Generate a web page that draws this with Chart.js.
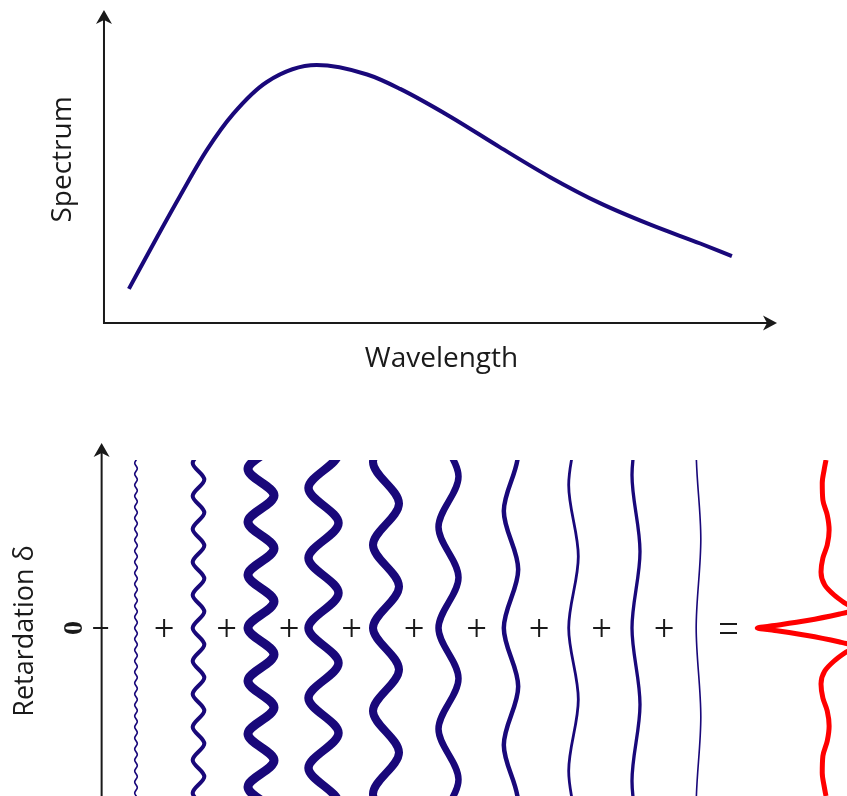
<!DOCTYPE html>
<html>
<head>
<meta charset="utf-8">
<title>Spectrum and interferogram</title>
<script src="https://cdn.jsdelivr.net/npm/chart.js@4.4.1/dist/chart.umd.min.js"></script>
<style>
  html, body { margin: 0; padding: 0; background: #fff; }
  canvas { display: block; }
</style>
</head>
<body>
<canvas id="spectrumChart" width="847" height="400"></canvas>
<canvas id="interferogramChart" width="847" height="396"></canvas>
<script>
// top panel: the spectrum (arbitrary units, axis runs 0..10)
const wavelength = [0.37, 0.79, 1.13, 1.53, 1.92, 2.42, 3.16, 3.91, 4.40, 5.14, 5.88, 6.63, 7.37, 8.11, 8.86, 9.33];
const spectrum   = [1.09, 2.75, 4.06, 5.53, 6.68, 7.70, 8.24, 7.94, 7.48, 6.60, 5.62, 4.66, 3.83, 3.15, 2.54, 2.14];

// bottom panel: one cosine per wavelength sample, left to right
// period in retardation units, amplitude in slot widths, strength = relative intensity
const componentPeriod    = [1.1, 3.3, 5.3, 7.0, 8.3, 10.1, 11.7, 14.3, 15.3, 17.8];
const componentAmplitude = [0.021, 0.093, 0.208, 0.24, 0.208, 0.16, 0.115, 0.077, 0.064, 0.037];
const componentStrength  = [0.18, 0.45, 1.0, 0.94, 0.89, 0.72, 0.5, 0.31, 0.37, 0.18];

// their sum, the interferogram (left of the baseline is positive)
const retardation   = [-16.8, -15.8, -14.5, -12.8, -11.3, -9.8, -8.3, -7.0, -5.6, -4.3, -3.3, -2.5, -2.0, -1.6, -1.4, -0.75, -0.25,
                       0, 0.25, 0.75, 1.4, 1.6, 2.0, 2.5, 3.3, 4.3, 5.6, 7.0, 8.3, 9.8, 11.3, 12.8, 14.5, 15.8, 16.8];
const interferogram = [-0.04, -0.01, 0.02, 0.01, -0.06, -0.09, -0.06, 0.01, 0.04, -0.02, -0.17, -0.34, -0.46, -0.39, -0.26, 0.26, 0.78,
                       1.06, 0.78, 0.26, -0.26, -0.39, -0.46, -0.34, -0.17, -0.02, 0.04, 0.01, -0.06, -0.09, -0.06, 0.01, 0.02, -0.01, -0.04];

const BLUE = '#19087a';
const INK = '#1a1a1a';
const AXIS_END = 10;
const DELTA_MAX = 16.8;
const SUM_SLOT = 12;

function arrowHead(ctx, x, y, dir) {
  // dir 'up' or 'right', notched head like the original drawing
  ctx.beginPath();
  if (dir === 'up') {
    ctx.moveTo(x, y);
    ctx.lineTo(x - 8, y + 14);
    ctx.lineTo(x, y + 10);
    ctx.lineTo(x + 8, y + 14);
  } else {
    ctx.moveTo(x, y);
    ctx.lineTo(x - 14, y - 7.5);
    ctx.lineTo(x - 10, y);
    ctx.lineTo(x - 14, y + 7.5);
  }
  ctx.closePath();
  ctx.fill();
}

function rotatedText(ctx, text, x, y, font) {
  ctx.save();
  ctx.translate(x, y);
  ctx.rotate(-Math.PI / 2);
  ctx.font = font;
  ctx.textAlign = 'center';
  ctx.textBaseline = 'alphabetic';
  ctx.fillText(text, 0, 0);
  ctx.restore();
}

const spectrumAxes = {
  id: 'spectrumAxes',
  afterDraw(chart) {
    const ctx = chart.ctx;
    const xs = chart.scales.x, ys = chart.scales.y;
    const x0 = xs.getPixelForValue(0), y0 = ys.getPixelForValue(0);
    const xEnd = xs.getPixelForValue(AXIS_END), yEnd = ys.getPixelForValue(AXIS_END);
    ctx.save();
    ctx.strokeStyle = INK;
    ctx.fillStyle = INK;
    ctx.lineWidth = 2;
    ctx.beginPath();
    ctx.moveTo(x0, yEnd + 10);
    ctx.lineTo(x0, y0);
    ctx.lineTo(xEnd - 10, y0);
    ctx.stroke();
    arrowHead(ctx, x0, yEnd, 'up');
    arrowHead(ctx, xEnd, y0, 'right');
    rotatedText(ctx, 'Spectrum', x0 - 32.5, 159.5, '28px "Open Sans"');
    ctx.font = '28px "Open Sans"';
    ctx.textAlign = 'center';
    ctx.textBaseline = 'alphabetic';
    ctx.fillText('Wavelength', (x0 + xEnd) / 2 + 1, y0 + 44);
    ctx.restore();
  }
};

new Chart(document.getElementById('spectrumChart'), {
  type: 'line',
  data: {
    datasets: [{
      data: wavelength.map((w, i) => ({ x: w, y: spectrum[i] })),
      borderColor: BLUE,
      borderWidth: 4,
      pointRadius: 0,
      cubicInterpolationMode: 'monotone'
    }]
  },
  options: {
    responsive: false,
    animation: false,
    events: [],
    layout: { padding: 0 },
    plugins: { legend: { display: false }, tooltip: { enabled: false } },
    scales: {
      x: { type: 'linear', display: false, min: -1.545, max: 11.04 },
      y: { type: 'linear', display: false, min: -2.46, max: 10.32 }
    }
  },
  plugins: [spectrumAxes]
});

// extrema of each cosine; the curve between them is left to the monotone spline
function componentPoints(i) {
  const half = componentPeriod[i] / 2;
  const n = Math.ceil(DELTA_MAX / half) + 1;
  const pts = [];
  for (let m = -n; m <= n; m++) {
    const side = (m % 2 === 0) ? -1 : 1;
    pts.push({ x: i + 1 + side * componentAmplitude[i], y: m * half });
  }
  return pts;
}

const datasets = componentPeriod.map((p, i) => ({
  data: componentPoints(i),
  borderColor: BLUE,
  borderWidth: componentStrength[i] * 9,
  pointRadius: 0,
  cubicInterpolationMode: 'monotone'
}));
datasets.push({
  data: retardation.map((d, j) => ({ x: SUM_SLOT - interferogram[j], y: d })),
  borderColor: '#ff0000',
  borderWidth: 5,
  borderJoinStyle: 'round',
  pointRadius: 0,
  cubicInterpolationMode: 'monotone'
});

const retardationAxis = {
  id: 'retardationAxis',
  afterDraw(chart) {
    const ctx = chart.ctx;
    const xs = chart.scales.x, ys = chart.scales.y;
    const ax = xs.getPixelForValue(0.45);
    const yZero = ys.getPixelForValue(0);
    const tip = chart.chartArea.top - 17;
    ctx.save();
    ctx.strokeStyle = INK;
    ctx.fillStyle = INK;
    ctx.lineWidth = 2;
    ctx.beginPath();
    ctx.moveTo(ax, chart.height);
    ctx.lineTo(ax, tip + 10);
    ctx.moveTo(ax - 8.5, yZero);
    ctx.lineTo(ax + 6.5, yZero);
    ctx.stroke();
    arrowHead(ctx, ax, tip, 'up');

    rotatedText(ctx, '0', ax - 19.5, yZero, 'bold 28px "Liberation Serif", "DejaVu Serif", serif');
    rotatedText(ctx, 'Retardation \u03b4', ax - 68.5, yZero + 3, '27px "Open Sans"');

    // plus signs between components, equals before the sum
    for (let i = 1; i < componentPeriod.length; i++) {
      const px = xs.getPixelForValue(i + 0.45);
      ctx.beginPath();
      ctx.moveTo(px - 8.5, yZero);
      ctx.lineTo(px + 8.5, yZero);
      ctx.moveTo(px, yZero - 9);
      ctx.lineTo(px, yZero + 9);
      ctx.stroke();
    }
    const ex = xs.getPixelForValue(componentPeriod.length + 0.48);
    ctx.beginPath();
    ctx.moveTo(ex - 8.5, yZero - 4);
    ctx.lineTo(ex + 8.5, yZero - 4);
    ctx.moveTo(ex - 8.5, yZero + 5);
    ctx.lineTo(ex + 8.5, yZero + 5);
    ctx.stroke();
    ctx.restore();
  }
};

new Chart(document.getElementById('interferogramChart'), {
  type: 'line',
  data: { datasets },
  options: {
    indexAxis: 'y',
    responsive: false,
    animation: false,
    events: [],
    layout: { padding: { top: 60, left: 0, right: 0, bottom: 0 } },
    plugins: { legend: { display: false }, tooltip: { enabled: false } },
    scales: {
      x: { type: 'linear', display: false, min: -1.176, max: 12.376 },
      y: { type: 'linear', display: false, min: -DELTA_MAX, max: DELTA_MAX }
    }
  },
  plugins: [retardationAxis]
});
</script>
</body>
</html>
